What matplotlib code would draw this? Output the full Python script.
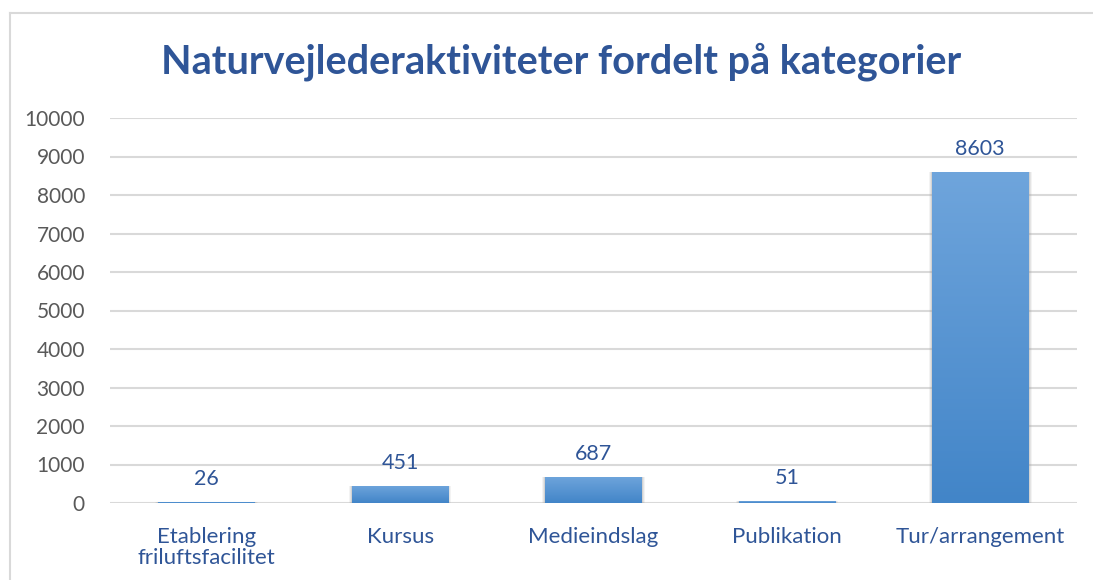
import numpy as np
import matplotlib.pyplot as plt
from matplotlib.colors import LinearSegmentedColormap
from matplotlib.lines import Line2D

categories = ["Etablering\nfriluftsfacilitet", "Kursus", "Medieindslag", "Publikation", "Tur/arrangement"]
values = [26, 451, 687, 51, 8603]
yticks = list(range(0, 10001, 1000))

plt.rcParams['font.family'] = ['Lato', 'DejaVu Sans']

fig = plt.figure(figsize=(10.93, 5.8), dpi=100)
ax = fig.add_axes([110/1093, 1-503/580, (1077-110)/1093, (503-118)/580])

# chart frame (only top and left edges fall inside the picture)
fig.add_artist(Line2D([10/1093, 1.0], [1-13/580, 1-13/580], color="#d9d9d9", lw=1.5))
fig.add_artist(Line2D([10/1093, 10/1093], [1-13/580, 0], color="#d9d9d9", lw=1.5))

x = np.arange(len(categories))
w = 0.5
cmap = LinearSegmentedColormap.from_list("blu", ["#4285c8", "#6fa5dc"])
grad = np.linspace(0, 1, 256).reshape(-1, 1)
for xi, v in zip(x, values):
    # soft shadow
    for k, a in [(0.03, 0.12), (0.02, 0.18), (0.01, 0.25)]:
        ax.bar(xi, v, width=w + k, color="#a0a0a0", alpha=a, zorder=2, linewidth=0)
    bar = ax.bar(xi, v, width=w, color="none", zorder=3, linewidth=0)[0]
    im = ax.imshow(grad, cmap=cmap, aspect="auto", origin="lower",
                   extent=[xi - w/2, xi + w/2, 0, v], zorder=3)
    im.set_clip_path(bar)
    ax.text(xi, v + 330, str(v), ha="center", va="bottom", fontsize=15.5, color="#2f5597")

ax.set_xlim(-0.5, len(categories) - 0.5)
ax.set_ylim(0, 10000)
ax.set_yticks(yticks)
ax.set_xticks(x)
ax.set_xticklabels(categories, fontsize=16, color="#2f5597", linespacing=1.1)
ax.tick_params(axis="y", labelsize=15, labelcolor="#595959", length=0, pad=18)
ax.tick_params(axis="x", length=0, pad=17)
ax.grid(axis="y", color="#d9d9d9", lw=1.5, zorder=0)
ax.set_axisbelow(True)
for s in ax.spines.values():
    s.set_visible(False)

fig.text(0.513, 1-62/580, "Naturvejlederaktiviteter fordelt på kategorier",
         ha="center", va="center", fontsize=28.5, fontweight="bold", color="#2f5597")

fig.savefig("out.png", dpi=100)
